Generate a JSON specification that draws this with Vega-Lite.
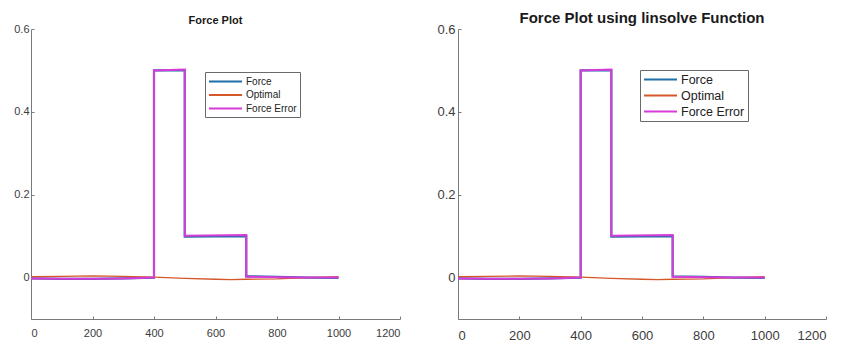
{
  "$schema": "https://vega.github.io/schema/vega-lite/v6.json",
  "background": "white",
  "padding": {"left": 13, "top": 11, "right": 5, "bottom": 5},
  "spacing": 58,
  "bounds": "flush",
  "config": {
    "view": {"stroke": null},
    "font": "Liberation Sans",
    "axis": {
      "grid": false,
      "title": null,
      "domainColor": "#7a7a7a",
      "tickColor": "#7a7a7a",
      "labelColor": "#3c3c3c",
      "labelFont": "Liberation Sans",
      "tickSize": -3,
      "domainWidth": 1
    },
    "legend": {
      "orient": "none",
      "title": null,
      "symbolType": "M-3,0H3",
      "symbolStrokeWidth": 2,
      "symbolSize": 121,
      "symbolOffset": 11,
      "labelOffset": 14,
      "strokeColor": "#6a6a6a",
      "fillColor": "white",
      "cornerRadius": 0,
      "labelFont": "Liberation Sans",
      "labelColor": "#222222"
    }
  },
  "datasets": {
    "forces": [
      {"s": "Force", "i": 0, "x": 0, "y": -0.002},
      {"s": "Force", "i": 1, "x": 100, "y": -0.003},
      {"s": "Force", "i": 2, "x": 200, "y": -0.003},
      {"s": "Force", "i": 3, "x": 300, "y": -0.002},
      {"s": "Force", "i": 4, "x": 400, "y": 0.0},
      {"s": "Force", "i": 5, "x": 400, "y": 0.5},
      {"s": "Force", "i": 6, "x": 500, "y": 0.5},
      {"s": "Force", "i": 7, "x": 500, "y": 0.099},
      {"s": "Force", "i": 8, "x": 700, "y": 0.1},
      {"s": "Force", "i": 9, "x": 700, "y": 0.003},
      {"s": "Force", "i": 10, "x": 800, "y": 0.002},
      {"s": "Force", "i": 11, "x": 900, "y": 0.0},
      {"s": "Force", "i": 12, "x": 1000, "y": -0.001},
      {"s": "Optimal", "i": 0, "x": 0, "y": 0.002},
      {"s": "Optimal", "i": 1, "x": 100, "y": 0.003},
      {"s": "Optimal", "i": 2, "x": 200, "y": 0.004},
      {"s": "Optimal", "i": 3, "x": 300, "y": 0.003},
      {"s": "Optimal", "i": 4, "x": 400, "y": 0.001},
      {"s": "Optimal", "i": 5, "x": 500, "y": -0.002},
      {"s": "Optimal", "i": 6, "x": 600, "y": -0.004},
      {"s": "Optimal", "i": 7, "x": 650, "y": -0.005},
      {"s": "Optimal", "i": 8, "x": 700, "y": -0.004},
      {"s": "Optimal", "i": 9, "x": 800, "y": -0.003},
      {"s": "Optimal", "i": 10, "x": 900, "y": 0.0},
      {"s": "Optimal", "i": 11, "x": 1000, "y": 0.002},
      {"s": "Force Error", "i": 0, "x": 0, "y": -0.002},
      {"s": "Force Error", "i": 1, "x": 100, "y": -0.003},
      {"s": "Force Error", "i": 2, "x": 200, "y": -0.003},
      {"s": "Force Error", "i": 3, "x": 300, "y": -0.002},
      {"s": "Force Error", "i": 4, "x": 400, "y": 0.0},
      {"s": "Force Error", "i": 5, "x": 400, "y": 0.5},
      {"s": "Force Error", "i": 6, "x": 500, "y": 0.502},
      {"s": "Force Error", "i": 7, "x": 500, "y": 0.101},
      {"s": "Force Error", "i": 8, "x": 700, "y": 0.103},
      {"s": "Force Error", "i": 9, "x": 700, "y": 0.002},
      {"s": "Force Error", "i": 10, "x": 800, "y": 0.001},
      {"s": "Force Error", "i": 11, "x": 900, "y": 0.0},
      {"s": "Force Error", "i": 12, "x": 1000, "y": 0.0}
    ]
  },
  "hconcat": [
    {
      "width": 369,
      "height": 290,
      "title": {"text": "Force Plot", "fontSize": 11, "fontWeight": "bold", "color": "#1a1a1a", "offset": -3},
      "data": {"name": "forces"},
      "encoding": {
        "x": {"field": "x", "type": "quantitative", "scale": {"domain": [0, 1200], "nice": false, "zero": false},
              "axis": {"values": [0, 200, 400, 600, 800, 1000, 1200], "format": "d", "labelFontSize": 11, "labelPadding": 11}},
        "y": {"field": "y", "type": "quantitative", "scale": {"domain": [-0.1, 0.6], "nice": false, "zero": false},
              "axis": {"values": [0, 0.2, 0.4, 0.6], "format": "~g", "labelFontSize": 11, "labelPadding": 5}},
        "order": {"field": "i", "type": "quantitative"},
        "color": {"field": "s", "type": "nominal",
                  "scale": {"domain": ["Force", "Optimal", "Force Error"], "range": ["#1f6fa8", "#d4582a", "#d83cd8"]},
                  "legend": {"legendX": 174, "legendY": 43, "labelFontSize": 10, "padding": 3, "rowPadding": 1.5}}
      },
      "layer": [
        {"transform": [{"filter": "datum.s === 'Force'"}], "mark": {"type": "line", "strokeWidth": 2.2}},
        {"transform": [{"filter": "datum.s === 'Optimal'"}], "mark": {"type": "line", "strokeWidth": 1.3}},
        {"transform": [{"filter": "datum.s === 'Force Error'"}], "mark": {"type": "line", "strokeWidth": 2}}
      ]
    },
    {
      "width": 368,
      "height": 290,
      "title": {"text": "Force Plot using linsolve Function", "fontSize": 15, "fontWeight": "bold", "color": "#1a1a1a", "offset": -3},
      "data": {"name": "forces"},
      "encoding": {
        "x": {"field": "x", "type": "quantitative", "scale": {"domain": [0, 1200], "nice": false, "zero": false},
              "axis": {"values": [0, 200, 400, 600, 800, 1000, 1200], "format": "d", "labelFontSize": 13, "labelPadding": 13}},
        "y": {"field": "y", "type": "quantitative", "scale": {"domain": [-0.1, 0.6], "nice": false, "zero": false},
              "axis": {"values": [0, 0.2, 0.4, 0.6], "format": "~g", "labelFontSize": 13, "labelPadding": 6}},
        "order": {"field": "i", "type": "quantitative"},
        "color": {"field": "s", "type": "nominal",
                  "scale": {"domain": ["Force", "Optimal", "Force Error"], "range": ["#1f6fa8", "#d4582a", "#d83cd8"]},
                  "legend": {"legendX": 182, "legendY": 41, "labelFontSize": 12.5, "padding": 3, "rowPadding": 3}}
      },
      "layer": [
        {"transform": [{"filter": "datum.s === 'Force'"}], "mark": {"type": "line", "strokeWidth": 2.2}},
        {"transform": [{"filter": "datum.s === 'Optimal'"}], "mark": {"type": "line", "strokeWidth": 1.3}},
        {"transform": [{"filter": "datum.s === 'Force Error'"}], "mark": {"type": "line", "strokeWidth": 2}}
      ]
    }
  ],
  "resolve": {"legend": {"color": "independent"}}
}
